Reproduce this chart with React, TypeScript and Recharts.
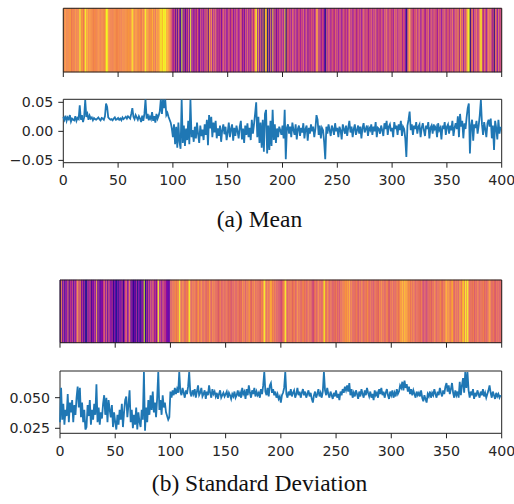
import React from "react";
import { LineChart, Line, XAxis, YAxis, ReferenceArea, ComposedChart } from "recharts";

// ---------- data ----------
const X_TICKS = [0, 50, 100, 150, 200, 250, 300, 350, 400];
const MEAN_TICKS = [-0.05, 0, 0.05];
const STD_TICKS = [0.025, 0.05];
const CAPTION_A = "(a) Mean";
const CAPTION_B = "(b) Standard Deviation";

const MEAN = [
  0.025, 0.020, 0.027, 0.018, 0.024, 0.021, 0.028, 0.017, 0.022, 0.020,
  0.019, 0.026, 0.018, 0.023, 0.021, 0.045, 0.020, 0.028, 0.016, 0.024,
  0.054, 0.025, 0.030, 0.020, 0.027, 0.022, 0.024, 0.019, 0.023, 0.021,
  0.020, 0.022, 0.024, 0.021, 0.019, 0.023, 0.022, 0.020, 0.026, 0.048,
  0.042, 0.024, 0.022, 0.020, 0.021, 0.019, 0.022, 0.024, 0.020, 0.021,
  0.023, 0.020, 0.022, 0.019, 0.024, 0.021, 0.023, 0.025, 0.022, 0.026,
  0.024, 0.022, 0.030, 0.040, 0.025, 0.021, 0.028, 0.024, 0.020, 0.026,
  0.022, 0.016, 0.027, 0.018, 0.030, 0.055, 0.022, 0.030, 0.019, 0.025,
  0.021, 0.033, 0.018, 0.026, 0.015, 0.030, 0.022, 0.027, 0.034, 0.055,
  0.030, 0.055, 0.040, 0.055, 0.028, 0.032, 0.025, 0.020, 0.015, 0.005,
  -0.010, 0.012, -0.022, 0.008, -0.028, 0.015, -0.018, -0.030, 0.055, -0.020,
  0.010, -0.025, 0.005, -0.015, 0.018, -0.022, 0.055, -0.010, 0.002, -0.018,
  0.008, -0.012, 0.015, -0.005, -0.020, 0.010, -0.008, 0.003, -0.015, 0.012,
  -0.006, 0.020, -0.024, 0.028, 0.005, 0.025, -0.010, 0.015, -0.002, 0.018,
  -0.012, 0.005, -0.008, 0.010, -0.018, 0.002, 0.012, -0.005, 0.008, -0.015,
  -0.002, 0.015, -0.010, 0.004, 0.012, -0.016, 0.006, -0.008, 0.010, 0.000,
  -0.012, 0.008, 0.018, -0.014, 0.005, -0.020, 0.010, -0.006, 0.014, -0.010,
  0.006, -0.015, 0.020, -0.004, 0.012, 0.030, 0.050, -0.010, 0.025, -0.020,
  0.015, -0.028, 0.020, -0.035, 0.030, 0.037, -0.038, 0.010, -0.032, 0.018,
  -0.025, 0.037, -0.015, 0.012, -0.020, 0.005, -0.010, 0.008, 0.002, -0.006,
  0.010, -0.012, 0.037, -0.048, 0.006, 0.012, -0.004, 0.008, -0.010, 0.015,
  0.002, -0.006, 0.012, -0.014, 0.004, 0.010, -0.008, 0.006, -0.002, 0.014,
  -0.012, 0.004, 0.010, -0.016, 0.006, -0.004, 0.012, 0.000, 0.008, -0.010,
  0.004, 0.028, 0.020, -0.006, 0.010, -0.012, 0.006, 0.002, -0.018, -0.048,
  0.008, -0.004, 0.012, 0.002, -0.008, 0.010, 0.004, -0.006, 0.014, 0.000,
  0.006, -0.010, 0.008, 0.002, -0.014, 0.012, 0.004, -0.004, 0.010, -0.008,
  0.006, 0.018, -0.002, 0.008, -0.010, 0.004, 0.012, -0.006, 0.002, 0.010,
  -0.004, 0.008, -0.012, 0.006, 0.014, -0.002, 0.004, 0.010, -0.008, 0.006,
  0.002, 0.012, -0.006, 0.008, 0.000, 0.016, -0.010, 0.006, 0.004, -0.004,
  0.010, 0.002, -0.008, 0.014, 0.004, 0.018, -0.006, 0.008, 0.012, 0.000,
  0.006, -0.010, 0.016, 0.004, 0.010, -0.006, 0.012, 0.002, 0.018, -0.008,
  0.008, 0.004, -0.012, -0.044, 0.010, 0.020, 0.034, 0.002, 0.012, -0.006,
  0.010, 0.004, 0.016, -0.004, 0.008, 0.012, -0.010, 0.006, 0.014, 0.002,
  -0.008, 0.010, 0.004, 0.016, -0.012, 0.006, 0.010, -0.004, 0.012, 0.004,
  0.008, -0.010, 0.014, 0.002, 0.006, -0.014, 0.010, 0.004, 0.016, -0.006,
  0.008, 0.012, -0.004, 0.010, 0.002, 0.018, -0.008, 0.006, 0.014, 0.004,
  0.026, -0.010, 0.030, 0.008, 0.018, -0.012, 0.014, 0.004, 0.024, 0.040,
  0.048, -0.038, 0.010, 0.020, -0.016, 0.012, 0.006, 0.018, -0.004, 0.010,
  0.028, 0.054, 0.012, -0.006, 0.016, 0.004, -0.010, 0.014, 0.020, 0.008,
  0.022, -0.012, 0.010, -0.032, 0.018, 0.006, -0.014, 0.020, -0.004, 0.008,
];

const STD = [
  0.030, 0.058, 0.032, 0.045, 0.028, 0.040, 0.035, 0.053, 0.030, 0.046,
  0.038, 0.048, 0.030, 0.044, 0.036, 0.050, 0.059, 0.042, 0.058, 0.034,
  0.046, 0.030, 0.040, 0.024, 0.026, 0.044, 0.035, 0.048, 0.028, 0.040,
  0.032, 0.045, 0.036, 0.061, 0.030, 0.042, 0.028, 0.038, 0.033, 0.045,
  0.052, 0.036, 0.050, 0.030, 0.048, 0.040, 0.034, 0.044, 0.026, 0.038,
  0.030, 0.024, 0.036, 0.028, 0.040, 0.032, 0.045, 0.026, 0.038, 0.048,
  0.051, 0.034, 0.044, 0.056, 0.030, 0.040, 0.025, 0.036, 0.028, 0.042,
  0.024, 0.038, 0.030, 0.026, 0.040, 0.032, 0.071, 0.023, 0.042, 0.030,
  0.048, 0.036, 0.052, 0.040, 0.055, 0.038, 0.046, 0.034, 0.050, 0.071,
  0.040, 0.048, 0.036, 0.052, 0.042, 0.046, 0.038, 0.035, 0.032, 0.034,
  0.055, 0.050, 0.056, 0.052, 0.058, 0.053, 0.057, 0.054, 0.071, 0.055,
  0.052, 0.058, 0.054, 0.050, 0.056, 0.053, 0.059, 0.071, 0.054, 0.051,
  0.056, 0.053, 0.057, 0.050, 0.055, 0.060, 0.052, 0.054, 0.058, 0.051,
  0.053, 0.056, 0.049, 0.055, 0.052, 0.060, 0.054, 0.050, 0.057, 0.053,
  0.055, 0.051, 0.054, 0.049, 0.053, 0.056, 0.050, 0.052, 0.054, 0.051,
  0.053, 0.055, 0.050, 0.054, 0.052, 0.049, 0.053, 0.051, 0.055, 0.050,
  0.052, 0.056, 0.051, 0.054, 0.050, 0.058, 0.053, 0.055, 0.049, 0.057,
  0.052, 0.060, 0.054, 0.050, 0.056, 0.053, 0.058, 0.051, 0.055, 0.052,
  0.054, 0.050, 0.057, 0.053, 0.060, 0.071, 0.055, 0.052, 0.058, 0.051,
  0.060, 0.062, 0.054, 0.057, 0.052, 0.055, 0.050, 0.053, 0.049, 0.051,
  0.046, 0.052, 0.054, 0.058, 0.071, 0.053, 0.050, 0.055, 0.052, 0.057,
  0.051, 0.054, 0.056, 0.050, 0.053, 0.058, 0.052, 0.055, 0.050, 0.054,
  0.057, 0.052, 0.055, 0.050, 0.053, 0.056, 0.051, 0.054, 0.049, 0.046,
  0.052, 0.055, 0.050, 0.053, 0.057, 0.051, 0.054, 0.050, 0.055, 0.071,
  0.056, 0.052, 0.058, 0.053, 0.050, 0.055, 0.052, 0.049, 0.054, 0.051,
  0.056, 0.050, 0.053, 0.048, 0.055, 0.052, 0.057, 0.054, 0.059, 0.056,
  0.060, 0.055, 0.062, 0.052, 0.057, 0.050, 0.054, 0.051, 0.056, 0.053,
  0.049, 0.055, 0.051, 0.057, 0.053, 0.050, 0.056, 0.052, 0.058, 0.054,
  0.051, 0.055, 0.050, 0.053, 0.048, 0.056, 0.052, 0.054, 0.050, 0.057,
  0.053, 0.058, 0.052, 0.055, 0.050, 0.054, 0.057, 0.052, 0.049, 0.055,
  0.052, 0.056, 0.050, 0.054, 0.051, 0.057, 0.053, 0.055, 0.060, 0.058,
  0.063, 0.056, 0.064, 0.058, 0.061, 0.055, 0.059, 0.053, 0.057, 0.052,
  0.056, 0.053, 0.050, 0.055, 0.052, 0.054, 0.051, 0.056, 0.050, 0.047,
  0.052, 0.049, 0.046, 0.053, 0.051, 0.055, 0.050, 0.054, 0.052, 0.057,
  0.053, 0.050, 0.055, 0.052, 0.058, 0.054, 0.051, 0.056, 0.053, 0.059,
  0.062, 0.055, 0.060, 0.053, 0.057, 0.062, 0.054, 0.050, 0.056, 0.052,
  0.055, 0.050, 0.063, 0.052, 0.060, 0.066, 0.054, 0.071, 0.058, 0.071,
  0.056, 0.050, 0.055, 0.052, 0.057, 0.049, 0.054, 0.051, 0.056, 0.053,
  0.050, 0.055, 0.052, 0.057, 0.051, 0.054, 0.050, 0.053, 0.056, 0.060,
  0.054, 0.050, 0.055, 0.052, 0.049, 0.054, 0.051, 0.053, 0.050, 0.052,
];

// ---------- styling helpers ----------
const PLASMA = [
  "#0d0887", "#41049d", "#6a00a8", "#8f0da4", "#b12a90", "#cc4778",
  "#e16462", "#f2844b", "#fca636", "#fcce25", "#f0f921",
];
// colour limits of the two heat strips (colour scaling only)
const MEAN_CLIM: [number, number] = [-0.035, 0.045];
const STD_CLIM: [number, number] = [0.024, 0.07];

function hexToRgb(h: string) {
  return [parseInt(h.slice(1, 3), 16), parseInt(h.slice(3, 5), 16), parseInt(h.slice(5, 7), 16)];
}

function plasma(t: number) {
  const c = Math.max(0, Math.min(1, t)) * (PLASMA.length - 1);
  const k = Math.min(PLASMA.length - 2, Math.floor(c));
  const f = c - k;
  const a = hexToRgb(PLASMA[k]);
  const b = hexToRgb(PLASMA[k + 1]);
  const m = a.map((v, j) => Math.round(v + (b[j] - v) * f));
  return `rgb(${m[0]},${m[1]},${m[2]})`;
}

function colorsFor(series: number[], clim: [number, number]) {
  const [lo, hi] = clim;
  return series.map((v) => plasma((v - lo) / (hi - lo)));
}

const W = 514;
const INK = "#262626";
const LINE = "#1f77b4";
const TICK_FONT = { fontFamily: "DejaVu Sans", fontSize: 14.2, fill: INK };
const fmtMean = (v: number) => (v < 0 ? "\u2212" : "") + Math.abs(v).toFixed(2);
const fmtStd = (v: number) => v.toFixed(3);

function Heatmap({ series, clim, top, height, plotTop, plotBottom, left, right }: any) {
  const data = series.map((v: number, i: number) => ({ i, level: 0.5 }));
  const colors = colorsFor(series, clim);
  return (
    <div style={{ position: "absolute", left: 0, top }}>
      <ComposedChart
        width={W}
        height={height}
        data={data}
        margin={{ top: plotTop - top, right: W - right, left: 0, bottom: 0 }}
      >
        <XAxis
          dataKey="i"
          type="number"
          domain={[0, 400]}
          allowDataOverflow
          ticks={X_TICKS}
          interval={0}
          height={height - (plotBottom - top)}
          axisLine={false}
          tickLine={{ stroke: "#222", strokeWidth: 1 }}
          tickSize={5}
          tickFormatter={() => ""}
        />
        <YAxis
          type="number"
          domain={[0, 1]}
          allowDataOverflow
          width={left}
          axisLine={false}
          tickLine={false}
          tick={false}
        />
        <Line dataKey="level" stroke="none" dot={false} isAnimationActive={false} />
        {series.map((_: number, i: number) => (
          <ReferenceArea
            key={i}
            x1={i}
            x2={i + 1}
            y1={0}
            y2={1}
            fill={colors[i]}
            fillOpacity={1}
            stroke={colors[i]}
            strokeWidth={0.5}
            ifOverflow="visible"
          />
        ))}
        <ReferenceArea x1={0} x2={400} y1={0} y2={1} fill="none" fillOpacity={0} stroke="#222" strokeWidth={1} ifOverflow="visible" />
      </ComposedChart>
    </div>
  );
}

function LinePanel({ series, top, height, plotTop, plotBottom, left, right, domain, ticks, fmt, xMargin }: any) {
  const data = series.map((v: number, i: number) => ({ i, v }));
  return (
    <div style={{ position: "absolute", left: 0, top }}>
      <LineChart
        width={W}
        height={height}
        data={data}
        margin={{ top: plotTop - top, right: W - right, left: 0, bottom: 0 }}
      >
        <XAxis
          dataKey="i"
          type="number"
          domain={[0, 400]}
          ticks={X_TICKS}
          interval={0}
          height={height - (plotBottom - top)}
          axisLine={false}
          tickLine={{ stroke: "#222", strokeWidth: 1 }}
          tickSize={5}
          tickMargin={xMargin}
          tick={TICK_FONT}
        />
        <YAxis
          type="number"
          domain={domain}
          allowDataOverflow
          ticks={ticks}
          interval={0}
          width={left}
          axisLine={false}
          tickLine={{ stroke: "#222", strokeWidth: 1 }}
          tickSize={5}
          tickMargin={5}
          tick={TICK_FONT}
          tickFormatter={fmt}
        />
        <Line
          type="linear"
          dataKey="v"
          stroke={LINE}
          strokeWidth={1.8}
          dot={false}
          isAnimationActive={false}
        />
        <ReferenceArea
          x1={0}
          x2={400}
          y1={domain[0]}
          y2={domain[1]}
          fill="none"
          fillOpacity={0}
          stroke="#222"
          strokeWidth={1}
          ifOverflow="visible"
        />
      </LineChart>
    </div>
  );
}

const captionStyle = (top: number): React.CSSProperties => ({
  position: "absolute",
  left: 0,
  top,
  width: 519,
  textAlign: "center",
  fontFamily: "'Liberation Serif', 'Times New Roman', serif",
  fontSize: 23.5,
  lineHeight: 1,
  color: "#111",
  whiteSpace: "nowrap",
});

export default function App() {
  return (
    <div style={{ position: "absolute", left: 0, top: 0, width: 514, height: 504, background: "#fff", overflow: "hidden" }}>
      <Heatmap series={MEAN} clim={MEAN_CLIM} top={0} height={90} plotTop={8.3} plotBottom={72} left={63.3} right={501.7} />
      <LinePanel
        series={MEAN}
        top={90}
        height={110}
        plotTop={99.3}
        plotBottom={162.7}
        left={63.3}
        right={501.7}
        domain={[-0.054, 0.0552]}
        ticks={MEAN_TICKS}
        fmt={fmtMean}
        xMargin={7}
      />
      <div style={captionStyle(207.8)}>{CAPTION_A}</div>

      <Heatmap series={STD} clim={STD_CLIM} top={270} height={92} plotTop={280} plotBottom={342.7} left={60} right={501.7} />
      <LinePanel
        series={STD}
        top={362}
        height={100}
        plotTop={371}
        plotBottom={433.3}
        left={60}
        right={501.7}
        domain={[0.0209, 0.0718]}
        ticks={STD_TICKS}
        fmt={fmtStd}
        xMargin={8}
      />
      <div style={captionStyle(472.3)}>{CAPTION_B}</div>
    </div>
  );
}
